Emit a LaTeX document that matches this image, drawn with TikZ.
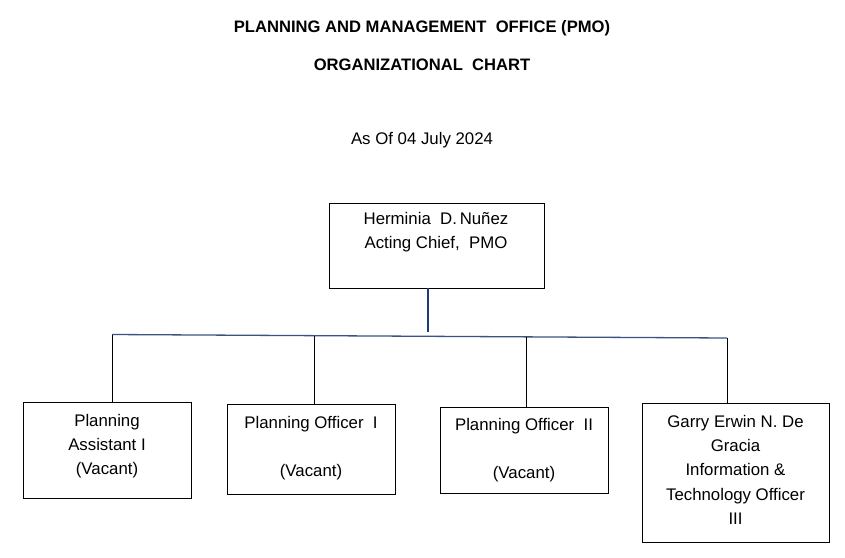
\documentclass[tikz,border=0pt]{standalone}
\usepackage{fontspec}
\setmainfont{Liberation Sans}
\definecolor{navy}{HTML}{1F3A6E}
\definecolor{hline}{HTML}{3B5384}
\begin{document}
\begin{tikzpicture}[x=1pt,y=-1pt,
  box/.style={draw=black, line width=0.9pt, inner sep=0pt},
  txt/.style={anchor=north, align=center, inner sep=0pt, font=\fontsize{16.8}{24.3}\selectfont},
  ttl/.style={inner sep=0pt, font=\fontsize{16.6}{18}\selectfont\bfseries},
  drop/.style={draw=black, line width=0.8pt}]
\useasboundingbox (0,0) rectangle (845,557);
\fill[white] (0,0) rectangle (845,557);
% titles
\node[ttl] (t1) at (422,28) {PLANNING AND MANAGEMENT\ \ OFFICE (PMO)};
\node[ttl] (t2) at (422,65) {ORGANIZATIONAL\ \ CHART};
\node[inner sep=0pt, font=\fontsize{16.8}{20}\selectfont] (t3) at (422,140) {As Of 04 July 2024};
% boxes
\node[box, minimum width=215, minimum height=85] (top) at (436.5,245.5) {};
\node[box, minimum width=168, minimum height=96] (b1) at (107,450) {};
\node[box, minimum width=168, minimum height=90] (b2) at (311,449) {};
\node[box, minimum width=168, minimum height=86] (b3) at (524,450) {};
\node[box, minimum width=187, minimum height=139] (b4) at (735.5,472.5) {};
% texts
\node[txt] (tt) at (436,212) {Herminia\ \ D.\,Nuñez\\Acting Chief,\ \ PMO};
\node[txt] (l1) at (107,414) {Planning\\Assistant I\\(Vacant)};
\node[txt] (l2) at (311,416) {Planning Officer\ \ I\\[0pt]\\(Vacant)};
\node[txt] (l3) at (524,418) {Planning Officer\ \ II\\[0pt]\\(Vacant)};
\node[txt] (l4) at (735.5,415) {Garry Erwin N. De\\Gracia\\Information \&\\Technology Officer\\III};
% connectors
\coordinate (h1) at (112,334.5);
\coordinate (h2) at (314,336);
\coordinate (h3) at (526,337.3);
\coordinate (h4) at (727,338);
\coordinate (hm) at (428,332);
\draw[hline, line width=1.3pt] (h1) -- (h4);
\draw[navy, line width=2pt] (top.south -| hm) -- (hm);
\draw[drop] (h1) -- (h1 |- b1.north);
\draw[drop] (h2) -- (h2 |- b2.north);
\draw[drop] (h3) -- (h3 |- b3.north);
\draw[drop] (h4) -- (h4 |- b4.north);
\end{tikzpicture}
\end{document}
